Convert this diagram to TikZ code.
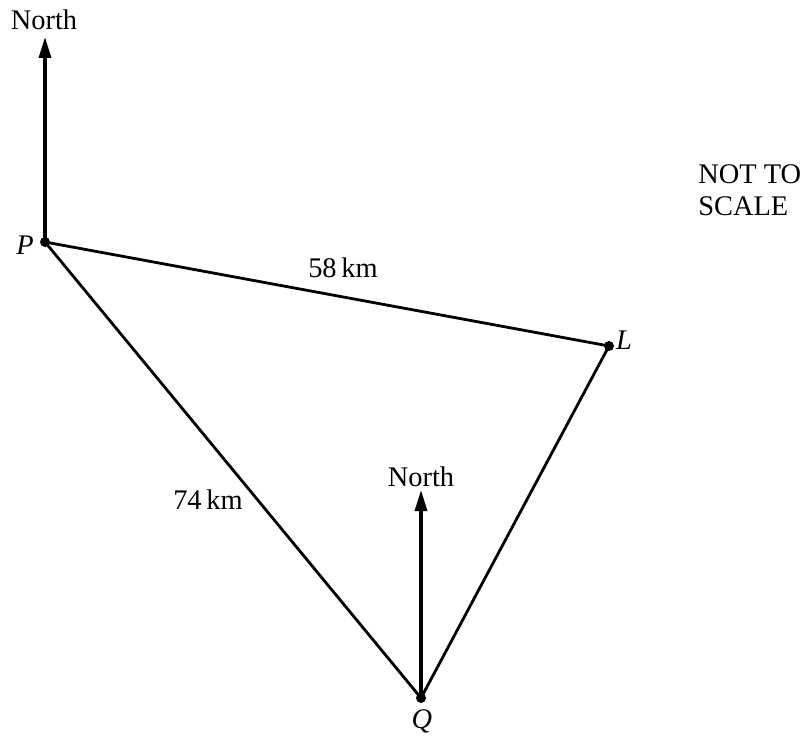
\documentclass[tikz,border=0pt]{standalone}
\usepackage{fontspec}
\setmainfont{Liberation Serif}
\usetikzlibrary{arrows.meta}
\begin{document}
\begin{tikzpicture}[x=0.5pt,y=-0.5pt,
  every node/.style={font=\fontsize{14.2}{16}\selectfont, inner sep=0pt},
  seg/.style={line width=1.4pt},
  northarrow/.style={line width=1.6pt, -{Triangle[length=10.5pt,width=6pt]}},
  pt/.style={circle, fill=black, minimum size=5pt, inner sep=0pt}]
\useasboundingbox (0,0) rectangle (804,738);
\node[pt] (P) at (45,242) {};
\node[pt] (L) at (609,346) {};
\node[pt] (Q) at (421,698) {};
\coordinate (PN) at (45,37);
\coordinate (QN) at (421,490);
\node (PNl) at (44,20) {North};
\node (QNl) at (421,477) {North};
\node (Pl) at (25,245) {\itshape P};
\node (Ll) at (624,340) {\itshape L};
\node (Ql) at (422,721) {\itshape Q};
\node (d58) at (343,268) {58\,km};
\node (d74) at (208,500) {74\,km};
\node[align=left, anchor=base west, font=\fontsize{14.2}{16}\selectfont] (nts) at (698,215) {NOT TO\\SCALE};
\draw[seg] (P.center) -- (L.center);
\draw[seg] (P.center) -- (Q.center);
\draw[seg] (L.center) -- (Q.center);
\draw[northarrow] (P.center) -- (PN);
\draw[northarrow] (Q.center) -- (QN);
\end{tikzpicture}
\end{document}
